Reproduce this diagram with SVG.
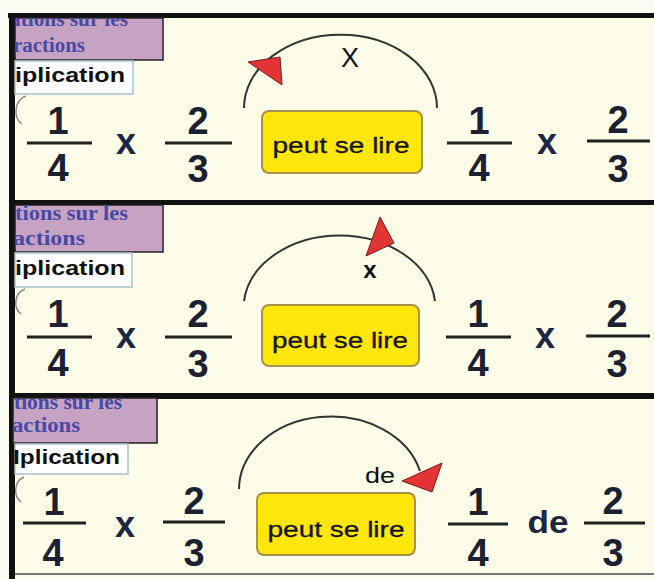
<svg xmlns="http://www.w3.org/2000/svg" width="654" height="579" viewBox="0 0 654 579">
<style>
.bg{fill:#fcfce8}
.bar{fill:#111}
.hdr{fill:#c6a3c3;stroke:#222;stroke-width:1.5}
.hdrt{font-family:"Liberation Serif",serif;font-weight:bold;font-size:20px;fill:#4848a6}
.lab{fill:#ffffff;stroke:#a9c2cc;stroke-width:1.5}
.labt{font-family:"Liberation Sans",Arial,sans-serif;font-weight:bold;font-size:21px;fill:#111}
.dig{font-family:"Liberation Sans",Arial,sans-serif;font-weight:bold;font-size:38px;fill:#1b2130;text-anchor:middle}
.op{font-family:"Liberation Sans",Arial,sans-serif;font-weight:bold;font-size:36px;fill:#1c2645;text-anchor:middle}
.fl{stroke:#222;stroke-width:3}
.pill{fill:#ffe60a;stroke:#a8914a;stroke-width:2}
.pillt{font-family:"Liberation Sans",Arial,sans-serif;font-size:22px;fill:#151515;text-anchor:middle;stroke:#151515;stroke-width:0.3}
.arc{fill:none;stroke:#333;stroke-width:2}
.head{fill:#e23434;stroke:#7a1c1c;stroke-width:1}
.arcl{font-family:"Liberation Sans",Arial,sans-serif;font-size:27px;fill:#111;text-anchor:middle}
.curl{fill:none;stroke:#888;stroke-width:1.5}
</style>
<defs>
<clipPath id="c1"><rect x="15" y="18" width="148" height="42"/></clipPath>
<clipPath id="c2"><rect x="15" y="205" width="148" height="47"/></clipPath>
<clipPath id="c3"><rect x="13" y="398" width="144" height="45"/></clipPath>
</defs>
<rect x="0" y="0" width="654" height="579" fill="#fbfbf2"/>
<rect class="bg" x="10" y="13" width="644" height="562"/>

<g id="frames">
<rect class="bar" x="8" y="13" width="646" height="5"/>
<rect class="bar" x="9" y="200" width="645" height="5"/>
<rect class="bar" x="9" y="393" width="645" height="6"/>
<rect x="9" y="573" width="645" height="2" fill="#777"/>
<rect class="bar" x="9" y="13" width="6" height="566"/>
</g>

<g id="panel1">
<g id="hdr1">
<rect class="hdr" x="15" y="18" width="148" height="42"/>
<g clip-path="url(#c1)">
<text class="hdrt" x="128" y="26" text-anchor="end" textLength="118" lengthAdjust="spacingAndGlyphs">ations sur les</text>
<text class="hdrt" x="6" y="52" textLength="79" lengthAdjust="spacingAndGlyphs">fractions</text>
</g>
</g>
<g id="lab1">
<rect class="lab" x="15" y="61" width="118" height="33"/>
<text class="labt" x="15" y="82" textLength="110" lengthAdjust="spacingAndGlyphs">iplication</text>
<path class="curl" d="M26,96 C14,100 13,118 22,124"/>
</g>
<g id="f1a"><text class="dig" x="58" y="134">1</text><line class="fl" x1="27" y1="143" x2="92" y2="143"/><text class="dig" x="58" y="181">4</text></g>
<g id="op1a"><text class="op" x="126" y="154">x</text></g>
<g id="f1b"><text class="dig" x="198" y="134">2</text><line class="fl" x1="165" y1="143" x2="232" y2="143"/><text class="dig" x="198" y="182">3</text></g>
<g id="pill1"><rect class="pill" x="262" y="111" width="160" height="62" rx="7"/><text class="pillt" x="341" y="153" textLength="137" lengthAdjust="spacingAndGlyphs">peut se lire</text></g>
<g id="f1c"><text class="dig" x="479" y="134">1</text><line class="fl" x1="447" y1="143" x2="512" y2="143"/><text class="dig" x="479" y="181">4</text></g>
<g id="op1b"><text class="op" x="547" y="154">x</text></g>
<g id="f1d"><text class="dig" x="618" y="133">2</text><line class="fl" x1="587" y1="141" x2="650" y2="141"/><text class="dig" x="618" y="182">3</text></g>
</g>

<g id="panel2">
<g id="hdr2">
<rect class="hdr" x="15" y="205" width="148" height="47"/>
<g clip-path="url(#c2)">
<text class="hdrt" x="128" y="220" text-anchor="end" textLength="113" lengthAdjust="spacingAndGlyphs">tions sur les</text>
<text class="hdrt" x="85" y="245" text-anchor="end" textLength="72" lengthAdjust="spacingAndGlyphs">actions</text>
</g>
</g>
<g id="lab2">
<rect class="lab" x="15" y="253" width="117" height="34"/>
<text class="labt" x="15" y="275" textLength="110" lengthAdjust="spacingAndGlyphs">iplication</text>
<path class="curl" d="M25,289 C14,293 13,308 21,314"/>
</g>
<g id="f2a"><text class="dig" x="58" y="327">1</text><line class="fl" x1="27" y1="337" x2="92" y2="337"/><text class="dig" x="58" y="376">4</text></g>
<g id="op2a"><text class="op" x="126" y="348">x</text></g>
<g id="f2b"><text class="dig" x="198" y="327">2</text><line class="fl" x1="165" y1="337" x2="232" y2="337"/><text class="dig" x="198" y="377">3</text></g>
<g id="pill2"><rect class="pill" x="262" y="305" width="157" height="61" rx="7"/><text class="pillt" x="340" y="348" textLength="136" lengthAdjust="spacingAndGlyphs">peut se lire</text></g>
<g id="f2c"><text class="dig" x="478" y="327">1</text><line class="fl" x1="446" y1="337" x2="511" y2="337"/><text class="dig" x="478" y="376">4</text></g>
<g id="op2b"><text class="op" x="545" y="348">x</text></g>
<g id="f2d"><text class="dig" x="617" y="327">2</text><line class="fl" x1="586" y1="336" x2="650" y2="336"/><text class="dig" x="617" y="377">3</text></g>
</g>

<g id="panel3">
<g id="hdr3">
<rect class="hdr" x="13" y="398" width="144" height="45"/>
<g clip-path="url(#c3)">
<text class="hdrt" x="122" y="409" text-anchor="end" textLength="108" lengthAdjust="spacingAndGlyphs">tions sur les</text>
<text class="hdrt" x="80" y="432" text-anchor="end" textLength="68" lengthAdjust="spacingAndGlyphs">actions</text>
</g>
</g>
<g id="lab3">
<rect class="lab" x="15" y="444" width="113" height="30"/>
<text class="labt" x="13" y="464" textLength="107" lengthAdjust="spacingAndGlyphs">Iplication</text>
<path class="curl" d="M24,477 C14,481 13,496 21,502"/>
</g>
<g id="f3a"><text class="dig" x="54" y="515">1</text><line class="fl" x1="23" y1="523" x2="86" y2="523"/><text class="dig" x="53" y="566">4</text></g>
<g id="op3a"><text class="op" x="125" y="537">x</text></g>
<g id="f3b"><text class="dig" x="194" y="514">2</text><line class="fl" x1="163" y1="522" x2="225" y2="522"/><text class="dig" x="194" y="566">3</text></g>
<g id="pill3"><rect class="pill" x="257" y="493" width="158" height="62" rx="7"/><text class="pillt" x="336" y="537" textLength="137" lengthAdjust="spacingAndGlyphs">peut se lire</text></g>
<g id="f3c"><text class="dig" x="478" y="515">1</text><line class="fl" x1="448" y1="524" x2="508" y2="524"/><text class="dig" x="478" y="566">4</text></g>
<g id="op3b"><text class="op" x="548" y="533" style="font-size:32px" textLength="41" lengthAdjust="spacingAndGlyphs">de</text></g>
<g id="f3d"><text class="dig" x="613" y="514">2</text><line class="fl" x1="584" y1="523" x2="645" y2="523"/><text class="dig" x="613" y="566">3</text></g>
</g>

<g id="connectors">
<path class="arc" d="M244,108 A96,73 0 0 1 437,108"/>
<polygon class="head" points="248,62 280,57 282,85"/>
<text class="arcl" x="350" y="67">X</text>
<path class="arc" d="M244,301 A96,73 0 0 1 435,301"/>
<polygon class="head" points="380,217 394,243 366,256"/>
<text class="arcl" x="370" y="278" style="font-weight:bold;font-size:24px">x</text>
<path class="arc" d="M239,489 A92,73 0 0 1 420,471"/>
<polygon class="head" points="402,481 442,463 432,492"/>
<text class="arcl" x="380" y="483" style="font-size:22px" textLength="30" lengthAdjust="spacingAndGlyphs">de</text>
</g>
</svg>
